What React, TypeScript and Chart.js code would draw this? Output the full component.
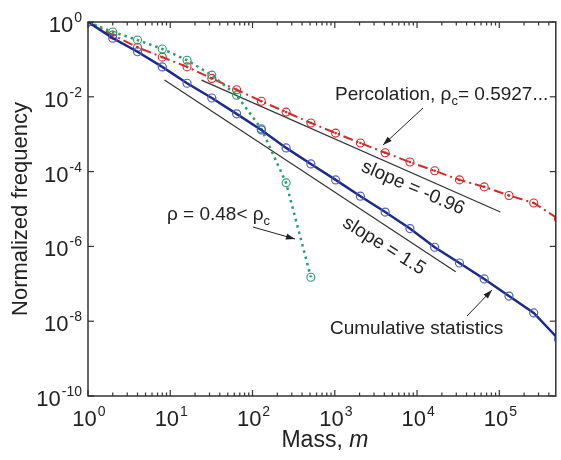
import { useEffect, useRef } from "react";
import { Chart, registerables } from "chart.js";

Chart.register(...registerables);

const FONT = '"Liberation Sans", Arial, Helvetica, sans-serif';

// cluster mass bins (powers of two)
const mass = [1, 2, 4, 8, 16, 32, 64, 128, 256, 512, 1024, 2048, 4096, 8192, 16384, 32768, 65536, 131072, 262144, 524288];
// cumulative statistics (blue, solid)
const cumulative = [1, 0.37, 0.16, 0.063, 0.023, 9.3e-3, 3.5e-3, 1.3e-3, 4.3e-4, 1.6e-4, 6.0e-5, 2.2e-5, 8.3e-6, 3.0e-6, 9.5e-7, 3.6e-7, 1.35e-7, 4.7e-8, 1.66e-8, 3.3e-9];
// percolation at rho_c (red, dash-dot)
const percolation = [1, 0.45, 0.21, 0.115, 0.063, 0.031, 0.0155, 7.6e-3, 3.9e-3, 2.0e-3, 1.07e-3, 5.8e-4, 3.2e-4, 1.8e-4, 1.05e-4, 6.0e-5, 3.9e-5, 2.3e-5, 1.45e-5, 5.4e-6];
// rho = 0.48 (green, dotted)
const belowCriticalMass = [1, 2, 4, 8, 16, 32, 64, 128, 256, 512];
const belowCritical = [1, 0.54, 0.33, 0.19, 0.095, 0.038, 0.011, 1.4e-3, 5.0e-5, 1.5e-7];
// reference slope lines
const slopeUpperMass = [24, 103000];
const slopeUpperFreq = [0.028, 8.3e-6];
const slopeLowerMass = [8.5, 29500];
const slopeLowerFreq = [0.028, 2.1e-7];

const xTickExponents = ["0", "1", "2", "3", "4", "5"];
const yTickExponents = ["0", "-2", "-4", "-6", "-8", "-10"];

const X_MIN = 1;
const X_MAX = 486000;
const Y_MIN = 1e-10;
const Y_MAX = 1;

const BLUE = "#1b2b8c";
const BLUE_MK = "#5060c4";
const RED = "#d42a2a";
const GREEN = "#2a9d6c";
const INK = "#222";

const pts = (xs: number[], ys: number[]) => xs.slice(0, ys.length).map((x, i) => ({ x, y: ys[i] }));

function arrow(ctx: CanvasRenderingContext2D, x1: number, y1: number, x2: number, y2: number) {
  ctx.save();
  ctx.strokeStyle = INK;
  ctx.fillStyle = INK;
  ctx.lineWidth = 1;
  ctx.beginPath();
  ctx.moveTo(x1, y1);
  ctx.lineTo(x2, y2);
  ctx.stroke();
  const ang = Math.atan2(y2 - y1, x2 - x1);
  const L = 9, W = 3;
  ctx.beginPath();
  ctx.moveTo(x2, y2);
  ctx.lineTo(x2 - L * Math.cos(ang) + W * Math.sin(ang), y2 - L * Math.sin(ang) - W * Math.cos(ang));
  ctx.lineTo(x2 - L * Math.cos(ang) - W * Math.sin(ang), y2 - L * Math.sin(ang) + W * Math.cos(ang));
  ctx.closePath();
  ctx.fill();
  ctx.restore();
}

function powLabel(ctx: CanvasRenderingContext2D, exp: string, x: number, baseline: number, align: "center" | "right") {
  ctx.save();
  ctx.fillStyle = INK;
  ctx.textAlign = "left";
  ctx.textBaseline = "alphabetic";
  ctx.font = `22px ${FONT}`;
  const wb = ctx.measureText("10").width;
  ctx.font = `14px ${FONT}`;
  const we = ctx.measureText(exp).width;
  const total = wb + we + 1;
  const left = align === "center" ? x - total / 2 : x - total;
  ctx.font = `22px ${FONT}`;
  ctx.fillText("10", left, baseline);
  ctx.font = `14px ${FONT}`;
  ctx.fillText(exp, left + wb + 1, baseline - 10);
  ctx.restore();
}

function subText(ctx: CanvasRenderingContext2D, parts: { t: string; sub?: boolean }[], x: number, baseline: number) {
  ctx.save();
  ctx.fillStyle = INK;
  ctx.textAlign = "left";
  ctx.textBaseline = "alphabetic";
  let cx = x;
  for (const p of parts) {
    ctx.font = p.sub ? `13px ${FONT}` : `19px ${FONT}`;
    ctx.fillText(p.t, cx, p.sub ? baseline + 5 : baseline);
    cx += ctx.measureText(p.t).width;
  }
  ctx.restore();
}

function rotText(ctx: CanvasRenderingContext2D, t: string, cx: number, cy: number, deg: number) {
  ctx.save();
  ctx.translate(cx, cy);
  ctx.rotate((deg * Math.PI) / 180);
  ctx.fillStyle = INK;
  ctx.font = `19px ${FONT}`;
  ctx.textAlign = "center";
  ctx.textBaseline = "middle";
  ctx.fillText(t, 0, 0);
  ctx.restore();
}

const decor = {
  id: "decor",
  afterDatasetsDraw(chart: any) {
    const ctx: CanvasRenderingContext2D = chart.ctx;
    const a = chart.chartArea;
    const meta = chart.getDatasetMeta(1);
    ctx.save();
    ctx.beginPath();
    ctx.rect(a.left, a.top, a.right - a.left, a.bottom - a.top);
    ctx.clip();
    ctx.fillStyle = RED;
    meta.data.forEach((p: any) => {
      ctx.beginPath();
      ctx.arc(p.x, p.y, 1.3, 0, Math.PI * 2);
      ctx.fill();
    });
    ctx.restore();
  },
  afterDraw(chart: any) {
    const ctx: CanvasRenderingContext2D = chart.ctx;
    const a = chart.chartArea;
    const xs = chart.scales.x;
    const ys = chart.scales.y;
    ctx.save();
    ctx.strokeStyle = "#333";
    ctx.lineWidth = 1.5;
    ctx.strokeRect(a.left, a.top, a.right - a.left, a.bottom - a.top);
    ctx.lineWidth = 1.2;
    const seg = (x1: number, y1: number, x2: number, y2: number) => {
      ctx.beginPath();
      ctx.moveTo(x1, y1);
      ctx.lineTo(x2, y2);
      ctx.stroke();
    };
    for (let e = 0; e <= 5; e++) {
      for (let k = 1; k <= 9; k++) {
        const v = k * Math.pow(10, e);
        if (v > X_MAX) break;
        const px = xs.getPixelForValue(v);
        const len = k === 1 ? 6 : 3.5;
        seg(px, a.bottom, px, a.bottom - len);
        seg(px, a.top, px, a.top + len);
      }
    }
    yTickExponents.forEach((e) => {
      const py = ys.getPixelForValue(Math.pow(10, Number(e)));
      seg(a.left, py, a.left + 6, py);
      seg(a.right, py, a.right - 6, py);
    });
    ctx.restore();

    xTickExponents.forEach((e) => {
      const px = xs.getPixelForValue(Math.pow(10, Number(e)));
      powLabel(ctx, e, px + 1, a.bottom + 30, "center");
    });
    yTickExponents.forEach((e) => {
      const py = ys.getPixelForValue(Math.pow(10, Number(e)));
      powLabel(ctx, e, a.left - 6, py + 10, "right");
    });

    // axis titles
    ctx.save();
    ctx.fillStyle = INK;
    ctx.font = `23px ${FONT}`;
    const w1 = ctx.measureText("Mass, ").width;
    ctx.font = `italic 23px ${FONT}`;
    const w2 = ctx.measureText("m").width;
    const tx = (a.left + a.right) / 2 + 3 - (w1 + w2) / 2;
    ctx.textAlign = "left";
    ctx.textBaseline = "alphabetic";
    ctx.font = `23px ${FONT}`;
    ctx.fillText("Mass, ", tx, 447);
    ctx.font = `italic 23px ${FONT}`;
    ctx.fillText("m", tx + w1, 447);
    ctx.translate(27, 209);
    ctx.rotate(-Math.PI / 2);
    ctx.font = `22px ${FONT}`;
    ctx.textAlign = "center";
    ctx.fillText("Normalized frequency", 0, 0);
    ctx.restore();

    // annotations
    subText(ctx, [{ t: "Percolation, ρ" }, { t: "c", sub: true }, { t: "= 0.5927..." }], 335, 100);
    arrow(ctx, 423, 108, 383, 145);
    subText(ctx, [{ t: "ρ = 0.48< ρ" }, { t: "c", sub: true }], 167, 220);
    arrow(ctx, 253, 227, 295, 239);
    rotText(ctx, "slope = -0.96", 413, 188, 23.5);
    rotText(ctx, "slope = 1.5", 384, 246, 32);
    ctx.save();
    ctx.fillStyle = INK;
    ctx.font = `19px ${FONT}`;
    ctx.textAlign = "left";
    ctx.textBaseline = "alphabetic";
    ctx.fillText("Cumulative statistics", 330, 334);
    ctx.restore();
    arrow(ctx, 467, 316, 492, 290);
  },
};

export default function App() {
  const ref = useRef<HTMLCanvasElement | null>(null);
  useEffect(() => {
    document.body.style.margin = "0";
    const canvas = ref.current!;
    const chart = new Chart(canvas, {
      type: "scatter",
      data: {
        datasets: [
          {
            data: pts(mass, cumulative),
            showLine: true,
            borderColor: BLUE,
            borderWidth: 2.5,
            pointRadius: 4,
            pointBorderColor: BLUE_MK,
            pointBackgroundColor: "rgba(0,0,0,0)",
            pointBorderWidth: 1.2,
            order: 1,
          },
          {
            data: pts(mass, percolation),
            showLine: true,
            borderColor: RED,
            borderWidth: 2,
            borderDash: [10, 4, 2, 4],
            pointRadius: 4,
            pointBorderColor: RED,
            pointBackgroundColor: "rgba(0,0,0,0)",
            pointBorderWidth: 1.1,
            order: 3,
          },
          {
            data: pts(belowCriticalMass, belowCritical),
            showLine: true,
            borderColor: GREEN,
            borderWidth: 2.5,
            borderDash: [2.5, 4],
            pointRadius: 4,
            pointBorderColor: GREEN,
            pointBackgroundColor: "rgba(0,0,0,0)",
            pointBorderWidth: 1.1,
            order: 2,
          },
          {
            data: pts(slopeUpperMass, slopeUpperFreq),
            showLine: true,
            borderColor: "#333",
            borderWidth: 1.2,
            pointRadius: 0,
            order: 4,
          },
          {
            data: pts(slopeLowerMass, slopeLowerFreq),
            showLine: true,
            borderColor: "#333",
            borderWidth: 1.2,
            pointRadius: 0,
            order: 4,
          },
        ],
      },
      options: {
        animation: false,
        responsive: false,
        maintainAspectRatio: false,
        layout: { padding: { left: 88, top: 22, right: 1, bottom: 64 } },
        plugins: { legend: { display: false }, tooltip: { enabled: false } },
        scales: {
          x: { type: "logarithmic", min: X_MIN, max: X_MAX, display: false },
          y: { type: "logarithmic", min: Y_MIN, max: Y_MAX, display: false },
        },
      },
      plugins: [decor],
    });
    return () => chart.destroy();
  }, []);
  return <canvas ref={ref} width={561} height={460} style={{ display: "block", width: 561, height: 460 }} />;
}
